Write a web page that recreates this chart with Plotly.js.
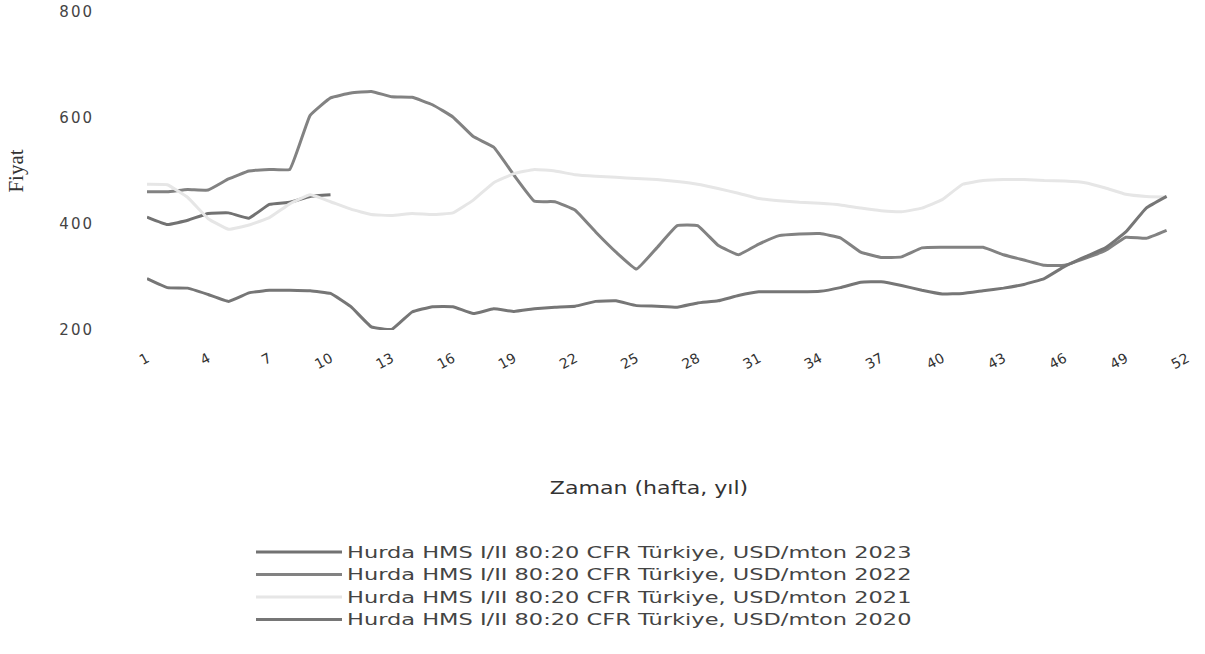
<!DOCTYPE html>
<html>
<head>
<meta charset="utf-8">
<script src="https://cdn.plot.ly/plotly-3.0.1.min.js"></script>
<style>
html, body { margin: 0; padding: 0; background: #fff; }
#chart { width: 1205px; height: 654px; }
#chart .legend .scrollbox { clip-path: none !important; }
#chart .legendtext { transform-box: fill-box; transform-origin: left center; transform: scaleX(1.5); }
#chart .xtitle { transform-box: fill-box; transform-origin: center; transform: translateX(-18px) scaleX(1.3); }
#chart .ytick text { letter-spacing: 2px; }
</style>
</head>
<body>
<div id="chart"></div>
<script>
const weeks2023 = [1,2,3,4,5,6,7,8,9,10];
const values2023 = [413,399,407,420,421,411,437,441,452,455];

const weeksFull = [1,2,3,4,5,6,7,8,9,10,11,12,13,14,15,16,17,18,19,20,21,22,23,24,25,26,27,28,29,30,31,32,33,34,35,36,37,38,39,40,41,42,43,44,45,46,47,48,49,50,51];

const values2022 = [461,461,465,464,485,500,503,503,605,638,647,650,640,639,625,602,565,545,492,443,442,426,385,347,315,355,397,397,360,342,362,378,381,382,374,347,337,338,355,356,356,356,342,332,322,322,335,350,375,373,388];

const values2021 = [475,474,450,410,390,398,412,438,455,442,428,418,416,420,418,421,445,478,495,503,500,493,490,488,486,484,480,475,467,458,448,444,441,439,436,430,425,423,430,446,475,482,484,484,482,481,478,468,456,452,451];

const values2020 = [297,280,279,267,254,270,275,275,274,269,244,206,201,234,244,244,231,240,235,240,243,245,254,255,246,245,243,251,255,265,272,272,272,273,280,290,291,284,275,268,269,274,279,286,297,320,338,355,385,430,452];

const tickWeeks = [1,4,7,10,13,16,19,22,25,28,31,34,37,40,43,46,49,52];
const tickLabels = ["1","4","7","10","13","16","19","22","25","28","31","34","37","40","43","46","49","52"];
const yTicks = [200,400,600,800];

const seriesNames = [
  "Hurda HMS I/II 80:20 CFR Türkiye, USD/mton 2023",
  "Hurda HMS I/II 80:20 CFR Türkiye, USD/mton 2022",
  "Hurda HMS I/II 80:20 CFR Türkiye, USD/mton 2021",
  "Hurda HMS I/II 80:20 CFR Türkiye, USD/mton 2020"
];
const seriesColors = ["#727272", "#828282", "#e6e6e6", "#767676"];

const traces = [
  {x: weeks2023, y: values2023},
  {x: weeksFull, y: values2022},
  {x: weeksFull, y: values2021},
  {x: weeksFull, y: values2020}
].map((t, i) => ({
  x: t.x, y: t.y, type: 'scatter', mode: 'lines', name: seriesNames[i],
  line: {color: seriesColors[i], width: 3, shape: 'spline', smoothing: 0.3},
  hoverinfo: 'skip'
}));

const layout = {
  width: 1205, height: 654,
  paper_bgcolor: '#ffffff', plot_bgcolor: '#ffffff',
  margin: {l: 147, r: 18, t: 12, b: 324, autoexpand: false},
  showlegend: true,
  xaxis: {
    range: [1, 52], showgrid: false, zeroline: false, showline: false,
    tickmode: 'array', tickvals: tickWeeks, ticktext: tickLabels,
    tickangle: -28, ticks: '', ticklabelstandoff: 17,
    tickfont: {family: 'DejaVu Sans', size: 14, color: '#333'},
    title: {text: 'Zaman (hafta, yıl)', font: {family: 'DejaVu Sans', size: 17, color: '#333'}, standoff: 110},
    automargin: false, fixedrange: true
  },
  yaxis: {
    range: [200, 800], showgrid: false, zeroline: false, showline: false,
    tickmode: 'array', tickvals: yTicks, ticks: '', ticklabelstandoff: 52,
    tickfont: {family: 'DejaVu Sans', size: 15, color: '#444'},
    title: {text: 'Fiyat', font: {family: 'Liberation Serif', size: 21, color: '#333'}, standoff: 36},
    automargin: false, fixedrange: true
  },
  legend: {
    x: 0.1, xanchor: 'left', y: -0.647, yanchor: 'top',
    orientation: 'v', itemwidth: 86, tracegroupgap: 0,
    font: {family: 'DejaVu Sans', size: 15, color: '#444'},
    bgcolor: 'rgba(0,0,0,0)'
  }
};

Plotly.newPlot('chart', traces, layout, {staticPlot: true, displayModeBar: false});
</script>
</body>
</html>
